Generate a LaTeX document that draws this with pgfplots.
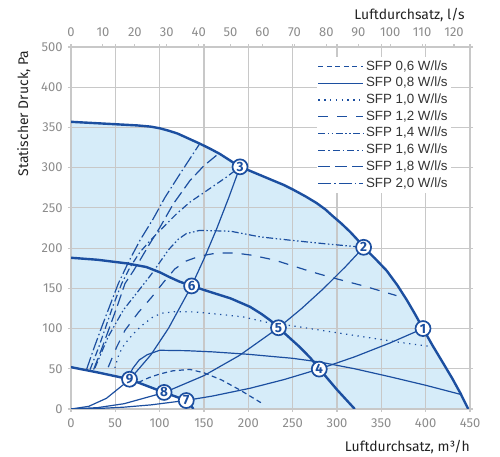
\documentclass[border=0pt]{standalone}
\usepackage{pgfplots}
\pgfplotsset{compat=1.18}
\usepackage{fontspec}
\setmainfont{Fira Sans}
\newfontfamily\legfont{Liberation Sans}
\definecolor{mblue}{HTML}{1C4FA0}
\definecolor{mfill}{HTML}{D6ECF9}
\definecolor{mgrid}{HTML}{C8C8C8}
\definecolor{mtick}{HTML}{8C8C8C}
\definecolor{mlab}{HTML}{222222}
\definecolor{mleg}{HTML}{333333}
\begin{document}
\begin{tikzpicture}
\begin{axis}[
  set layers,
  scale only axis, width=399bp, height=362bp,
  xmin=0, xmax=450, ymin=0, ymax=450,
  xtick={0,50,...,450}, ytick={0,50,...,450},
  yticklabels={0,50,100,150,200,250,300,350,400,500},
  grid=major, grid style={mgrid, line width=1.1bp},
  axis line style={mgrid, line width=1.1bp},
  tick style={mgrid, line width=1.1bp}, tick align=outside, major tick length=3bp,
  ticklabel style={font=\fontsize{13}{13}\selectfont, text=mtick},
  xticklabel style={yshift=-3bp},
  yticklabel style={xshift=-2bp},
  /pgf/number format/assume math mode=true,
  xlabel={Luftdurchsatz, m³/h},
  xlabel style={at={(axis description cs:1,-0.118)}, anchor=base east, font=\fontsize{14}{14}\selectfont, text=mlab, inner sep=0pt},
  ylabel={Statischer Druck, Pa},
  ylabel style={at={(axis description cs:-0.118,0.99)}, anchor=east, font=\fontsize{14}{14}\selectfont, text=mlab, inner sep=0pt},
  legend style={at={(axis description cs:0.952,0.972)}, anchor=north east, draw=none, fill=white,
    font=\legfont\fontsize{13.4}{13.4}\selectfont, text=mleg, inner sep=1bp,
    nodes={text height=10bp, text depth=3bp, inner ysep=1.85bp, inner xsep=2bp}},
  legend cell align=left,
  legend image code/.code={\draw[#1] (0bp,0bp) -- (45bp,0bp);},
  every axis plot/.append style={mblue, line width=1.2bp},
]
% filled working area
\addplot[forget plot, on layer=axis background, fill=mfill, draw=none] coordinates {
(0,357) (25,355.5) (50,354) (75,352.5) (90,351) (100,349) (110,346) (120,342.5) (132,336.5) (145,330) (157,323.5) (168,317) (180,308.5) (190.6,301) (202,296) (215,290) (228,284) (240,278.5) (250,273) (265,264) (277,256) (287,248) (295,240) (305,230.5) (315,220) (323,210.5) (330,201) (343,187) (356,172) (368,154) (379,135) (388,118) (397,100) (408,78.5) (420,56.5) (430,38) (439,20) (448,0)
(138,0) (135,5) (130,10.5) (118,15.5) (105,20.6) (85,29) (66,37) (30,45.5) (0,52)} -- cycle;

% SFP curves
\addplot[dash pattern=on 5bp off 3.5bp] coordinates {(76,33) (88,39) (100,43.5) (115,47.5) (134,49.2) (150,45) (170,36) (190.6,23.6) (205,14) (217,6)};
\addlegendentry{SFP 0,6 W/l/s}
\addplot[solid] coordinates {(64,39) (70,51) (77,61) (86,67.5) (100,73) (130,72.5) (160,71) (200,68) (250,63) (280,58.5) (320,50) (360,40) (400,29.5) (440,18)};
\addlegendentry{SFP 0,8 W/l/s}
\addplot[dash pattern=on 1.3bp off 4.5bp] coordinates {(49.5,51) (54,68) (60,80) (69,92) (79,103) (92,114) (102,119) (117,121) (138,120.7) (165,118) (194,114.5) (220,108) (243,104.5) (290,96.5) (330,89.7) (370,83) (408,77.3)};
\addlegendentry{SFP 1,0 W/l/s}
\addplot[dash pattern=on 10bp off 9bp] coordinates {(42,52) (51.5,77) (61,98) (76,120) (91,139) (104,157) (117,174) (130,184) (145,190) (165,194) (185,194) (205,191) (230,185) (250,178) (270,171) (292,164) (330,153) (367,141)};
\addlegendentry{SFP 1,2 W/l/s}
\addplot[dash pattern=on 7bp off 2.5bp on 1.5bp off 2.5bp on 1.5bp off 2.5bp] coordinates {(27,51) (42,90) (59,123) (74,144) (91,168) (110,198) (121,211) (130,218) (145,222) (180,221) (213,214) (250,209.5) (290,205) (330,201)};
\addlegendentry{SFP 1,4 W/l/s}
\addplot[dash pattern=on 7bp off 3bp on 1.5bp off 3bp] coordinates {(21.5,49) (31,76) (39.5,103) (48,130) (57.2,156) (67,177) (77.8,195) (89,209) (100.4,222) (119.2,242.8) (134.2,257.2) (160.5,277) (175,288) (190.6,301)};
\addlegendentry{SFP 1,6 W/l/s}
\addplot[dash pattern=on 12bp off 5bp] coordinates {(25.5,49) (35,76) (44,103) (52.5,129) (60.9,156) (70,171) (77.8,185) (88,204) (100.4,226) (115.4,255) (134.2,284) (150,302.5) (166.2,317.2)};
\addlegendentry{SFP 1,8 W/l/s}
\addplot[dash pattern=on 13bp off 3bp on 1.5bp off 3bp] coordinates {(17.5,49) (26,76) (35,103) (44,129) (53.4,156) (65,183) (77.8,209.7) (92.8,236.6) (106,263) (123,292.4) (144.7,329)};
\addlegendentry{SFP 2,0 W/l/s}

% system curves
\addplot[forget plot, solid] coordinates {(0,0) (30,0.6) (60,2.3) (90,5.1) (130,10.7) (160,16.2) (202,25.8) (240,36.5) (280,49.7) (320,64.9) (360,82.2) (397,100)};
\addplot[forget plot, solid] coordinates {(0,0) (30,1.7) (60,6.6) (105,20.4) (150,41.5) (190,66.6) (234,101) (260,124.8) (284.6,149.5) (310,177.4) (330,201)};
\addplot[forget plot, solid] coordinates {(0,0) (20,3.3) (40,13.3) (66,36.5) (90,67.2) (110,100.4) (136,153) (150,186.7) (164,223.2) (178,263) (190.6,301)};

% thick curves
\addplot[forget plot, solid, line width=2.4bp] coordinates {(0,357) (25,355.5) (50,354) (75,352.5) (90,351) (100,349) (110,346) (120,342.5) (132,336.5) (145,330) (157,323.5) (168,317) (180,308.5) (190.6,301) (202,296) (215,290) (228,284) (240,278.5) (250,273) (265,264) (277,256) (287,248) (295,240) (305,230.5) (315,220) (323,210.5) (330,201) (343,187) (356,172) (368,154) (379,135) (388,118) (397,100) (408,78.5) (420,56.5) (430,38) (439,20) (448,0)};
\addplot[forget plot, solid, line width=2.4bp] coordinates {(0,188) (30,185.5) (63,181) (85,176.5) (100,170) (111,164) (122,158.5) (136,153) (157,145.5) (180,137.5) (202,127) (215,118) (225,110) (234,101) (246,89) (258,77) (270,63.5) (280,50) (290,37) (300,24) (310,12) (320,0)};
\addplot[forget plot, solid, line width=2.4bp] coordinates {(0,52) (30,45.5) (66,37) (85,29) (105,20.6) (118,15.5) (130,10.5) (135,5) (138,0)};

% numbered points
\addplot[forget plot, only marks, mark=*, mark size=7.5bp,
  mark options={fill=white, draw=mblue, line width=1.7bp, solid},
  point meta=explicit symbolic, nodes near coords={\pgfplotspointmeta},
  nodes near coords style={anchor=center, font=\fontsize{13.5}{13.5}\selectfont\bfseries, text=mblue, inner sep=0pt}]
  coordinates {(397,100)[1] (330,201)[2] (190.6,301)[3] (280,49.6)[4] (234,101)[5] (136,153)[6] (130,10.5)[7] (105,20.6)[8] (66,37)[9]};
\end{axis}
\begin{axis}[
  scale only axis, width=399bp, height=362bp,
  xmin=0, xmax=125, ymin=0, ymax=450,
  axis x line*=top, axis y line=none,
  xtick={0,10,...,120},
  axis line style={mgrid, line width=1.1bp},
  tick style={mgrid, line width=1.1bp}, tick align=outside, major tick length=3bp,
  ticklabel style={font=\fontsize{13}{13}\selectfont, text=mtick},
  xticklabel style={yshift=4bp},
  /pgf/number format/assume math mode=true,
  xlabel={Luftdurchsatz, l/s},
  xlabel style={at={(axis description cs:0.987,1.077)}, anchor=base east, font=\fontsize{14}{14}\selectfont, text=mlab, inner sep=0pt},
]
\addplot[draw=none, forget plot] coordinates {(0,0) (125,450)};
\end{axis}
\pgfresetboundingbox
\path[use as bounding box] (-71bp,-48bp) rectangle (429bp,409bp);
\end{tikzpicture}
\end{document}
